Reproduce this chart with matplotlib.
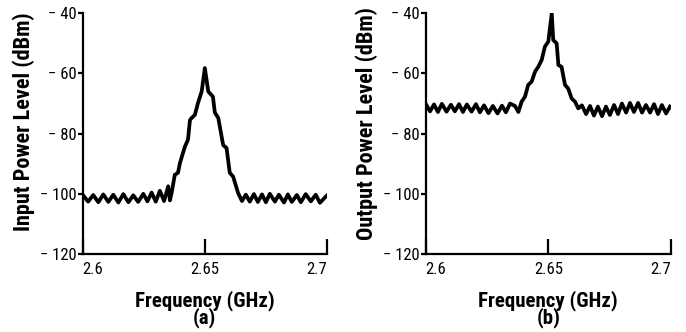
import matplotlib
matplotlib.use("Agg")
import matplotlib.pyplot as plt

plt.rcParams['font.family'] = ['Roboto Condensed', 'Roboto', 'DejaVu Sans']

# (a) input spectrum (GHz, dBm)
freq_a = [2.6000, 2.6022, 2.6043, 2.6064, 2.6084, 2.6105, 2.6125, 2.6146, 2.6166,
          2.6187, 2.6207, 2.6227, 2.6248, 2.6265, 2.6282, 2.6299, 2.6316, 2.6333,
          2.6350, 2.6357, 2.6364, 2.6377, 2.6390, 2.6398, 2.6418, 2.6431, 2.6439,
          2.6446, 2.6459, 2.6472, 2.6487, 2.6500, 2.6514, 2.6533, 2.6541, 2.6555,
          2.6575, 2.6589, 2.6602, 2.6616, 2.6636, 2.6652, 2.6668, 2.6684, 2.6701,
          2.6717, 2.6734, 2.6750, 2.6766, 2.6787, 2.6803, 2.6824, 2.6840, 2.6856,
          2.6877, 2.6893, 2.6913, 2.6934, 2.6954, 2.6971, 2.6999]
level_a = [-100.3, -102.6, -100.4, -102.8, -100.2, -102.7, -100.3, -102.9, -100.1,
           -102.8, -100.5, -102.7, -100.0, -102.5, -99.6, -102.6, -99.0, -102.4,
           -97.5, -102.2, -99.7, -93.7, -93.0, -89.8, -84.4, -82.0, -75.5,
           -74.8, -73.8, -69.8, -66.0, -58.2, -66.0, -67.7, -73.0, -74.8,
           -83.8, -84.8, -93.0, -94.3, -99.7, -102.4, -100.3, -102.6, -100.1,
           -102.7, -100.2, -102.8, -100.0, -102.6, -100.3, -102.9, -100.2, -102.7,
           -100.4, -102.8, -100.1, -102.5, -100.3, -103.0, -100.6]

# (b) output spectrum
freq_b = [2.6001, 2.6018, 2.6034, 2.6050, 2.6066, 2.6085, 2.6103, 2.6119, 2.6136,
          2.6152, 2.6168, 2.6187, 2.6205, 2.6221, 2.6238, 2.6256, 2.6274, 2.6293,
          2.6311, 2.6327, 2.6344, 2.6364, 2.6378, 2.6391, 2.6405, 2.6418, 2.6432,
          2.6446, 2.6459, 2.6473, 2.6486, 2.6500, 2.6514, 2.6520, 2.6534, 2.6541,
          2.6554, 2.6568, 2.6581, 2.6595, 2.6609, 2.6622, 2.6637, 2.6654, 2.6670,
          2.6686, 2.6702, 2.6719, 2.6735, 2.6751, 2.6768, 2.6784, 2.6800, 2.6817,
          2.6833, 2.6849, 2.6866, 2.6882, 2.6898, 2.6915, 2.6931, 2.6947, 2.6963,
          2.6980, 2.6996]
level_b = [-70.2, -72.6, -70.3, -72.8, -70.1, -72.7, -70.4, -72.6, -70.2,
           -72.8, -70.3, -72.7, -70.2, -72.9, -70.6, -73.2, -70.8, -73.3,
           -70.7, -72.9, -70.0, -70.8, -72.8, -69.4, -67.7, -63.8, -62.7,
           -59.4, -57.8, -55.5, -51.1, -49.4, -40.0, -48.9, -50.0, -57.2,
           -57.8, -63.8, -65.0, -68.3, -69.4, -71.6, -70.6, -73.5, -70.8,
           -74.0, -71.0, -74.2, -71.0, -73.8, -70.5, -73.5, -70.0, -73.0,
           -69.8, -72.8, -69.8, -73.0, -70.5, -73.0, -70.2, -73.5, -70.5,
           -73.3, -71.0]

x_ticks = [2.6, 2.65, 2.7]
x_labels = ['2.6', '2.65', '2.7']
y_ticks = [-120, -100, -80, -60, -40]
y_labels = ['\u2212 120', '\u2212 100', '\u2212 80', '\u2212 60', '\u2212 40']

fig = plt.figure(figsize=(6.86, 3.32), dpi=100)
ax_a = fig.add_axes([0.1206, 0.235, 0.356, 0.725])
ax_b = fig.add_axes([0.6205, 0.235, 0.3576, 0.725])

panels = [
    (ax_a, freq_a, level_a, 'Input Power Level (dBm)', '(a)', 0.55),
    (ax_b, freq_b, level_b, 'Output Power Level (dBm)', '(b)', 0.54),
]

for ax, f, lv, ylab, tag, ylab_y in panels:
    ax.plot(f, lv, color='black', linewidth=2.7, solid_joinstyle='round')
    ax.set_xlim(2.6, 2.7)
    ax.set_ylim(-120, -40)
    for side in ['top', 'right']:
        ax.spines[side].set_visible(False)
    for side in ['left', 'bottom']:
        ax.spines[side].set_linewidth(1.6)
    ax.set_xticks(x_ticks)
    ax.set_xticklabels(x_labels, fontsize=12)
    ax.get_xticklabels()[0].set_horizontalalignment('left')
    ax.get_xticklabels()[-1].set_horizontalalignment('right')
    ax.set_yticks(y_ticks)
    ax.set_yticklabels(y_labels, fontsize=12)
    ax.tick_params(axis='x', direction='in', length=11, width=1.6, pad=6)
    ax.tick_params(axis='y', direction='out', length=3.5, width=1.6, pad=1)
    ax.set_xlabel('Frequency (GHz)\n' + tag, fontsize=15, fontweight='bold',
                  linespacing=0.8, labelpad=9)
    ax.set_ylabel(ylab, fontsize=16, fontweight='bold')
    ax.yaxis.set_label_coords(-0.195, ylab_y)

fig.savefig('out.png', dpi=100)
